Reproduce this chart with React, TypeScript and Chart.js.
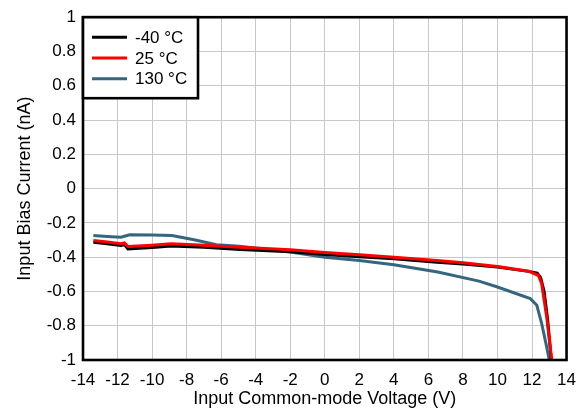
import React, { useEffect, useRef } from "react";
import { Chart, registerables } from "chart.js";

Chart.register(...registerables);

const seriesLabels = ["-40 °C", "25 °C", "130 °C"];
const seriesColors = ["#000000", "#ff0000", "#35667f"];

const xM40 = [-13.4, -12.6, -11.8, -11.6, -11.4, -10, -8.9, -7, -4.9, -2, 0, 2, 4, 6.5, 8, 10, 11.8, 12.3, 12.5, 12.7, 12.9, 13.12];
const yM40 = [-0.313, -0.322, -0.332, -0.327, -0.352, -0.343, -0.335, -0.342, -0.356, -0.368, -0.385, -0.398, -0.41, -0.429, -0.44, -0.458, -0.483, -0.493, -0.52, -0.6, -0.76, -1.0];

const x25 = [-13.4, -12.6, -11.8, -11.6, -11.4, -10, -8.9, -7, -4.9, -2, 0, 2, 4, 6.5, 8, 10, 11.8, 12.37, 12.56, 12.85, 13.14];
const y25 = [-0.303, -0.312, -0.322, -0.317, -0.338, -0.33, -0.322, -0.331, -0.342, -0.357, -0.373, -0.386, -0.4, -0.419, -0.432, -0.454, -0.482, -0.507, -0.555, -0.749, -1.0];

const x130 = [-13.4, -12.6, -11.8, -11.3, -10, -8.85, -7.5, -6.27, -4.94, -2, 0, 2, 4, 6.54, 8.93, 10, 11.9, 12.28, 12.56, 12.8, 13.0];
const y130 = [-0.273, -0.279, -0.284, -0.269, -0.271, -0.274, -0.3, -0.327, -0.336, -0.37, -0.4, -0.419, -0.444, -0.487, -0.54, -0.574, -0.642, -0.681, -0.787, -0.9, -1.0];

const xTitle = "Input Common-mode Voltage (V)";
const yTitle = "Input Bias Current (nA)";
const xMin = -14, xMax = 14, xStep = 2;
const yMin = -1, yMax = 1, yStep = 0.2;

const FONT = "'Liberation Sans', Arial, sans-serif";

function toPoints(xs: number[], ys: number[]) {
  return xs.map((x, i) => ({ x, y: ys[i] }));
}

const framePlugin = {
  id: "frameAndLegend",
  afterDraw(chart: any) {
    const { ctx, chartArea: ca } = chart;
    ctx.save();
    // frame
    ctx.strokeStyle = "#000";
    ctx.lineWidth = 2.6;
    ctx.strokeRect(ca.left, ca.top, ca.right - ca.left, ca.bottom - ca.top);
    // legend box
    const w = 115, h = 81;
    ctx.fillStyle = "#fff";
    ctx.fillRect(ca.left, ca.top, w, h);
    ctx.strokeRect(ca.left, ca.top, w, h);
    ctx.font = "17px " + FONT;
    ctx.textBaseline = "middle";
    ctx.textAlign = "left";
    chart.data.datasets.forEach((ds: any, i: number) => {
      const y = ca.top + 20 + i * 20.8;
      ctx.strokeStyle = ds.borderColor;
      ctx.lineWidth = 3;
      ctx.beginPath();
      ctx.moveTo(ca.left + 9, y);
      ctx.lineTo(ca.left + 44, y);
      ctx.stroke();
      ctx.fillStyle = "#000";
      ctx.fillText(ds.label, ca.left + 52, y + 1);
    });
    ctx.restore();
  },
};

export default function App() {
  const ref = useRef<HTMLCanvasElement | null>(null);
  useEffect(() => {
    if (!ref.current) return;
    const data = [
      toPoints(xM40, yM40),
      toPoints(x25, y25),
      toPoints(x130, y130),
    ];
    const orders = [1, 0, 2];
    const chart = new Chart(ref.current, {
      type: "line",
      data: {
        datasets: data.map((d, i) => ({
          label: seriesLabels[i],
          data: d,
          borderColor: seriesColors[i],
          backgroundColor: seriesColors[i],
          borderWidth: 3,
          pointRadius: 0,
          tension: 0,
          fill: false,
          order: orders[i],
        })),
      },
      options: {
        responsive: false,
        animation: false,
        layout: { padding: { top: 15, right: 16, left: 0, bottom: 0 } },
        plugins: { legend: { display: false }, tooltip: { enabled: false } },
        scales: {
          x: {
            type: "linear",
            min: xMin,
            max: xMax,
            afterFit: (s: any) => { s.height = 53; },
            afterBuildTicks: (s: any) => {
              const t = [];
              for (let v = xMin; v <= xMax + 1e-9; v += xStep) t.push({ value: v });
              s.ticks = t;
            },
            ticks: {
              color: "#000",
              font: { size: 17, family: FONT },
              padding: 10,
              maxRotation: 0,
              autoSkip: false,
              callback: (v: any) => String(Math.round(Number(v))),
            },
            grid: { color: "#c8c8c8", lineWidth: 1, drawTicks: false },
            border: { display: false },
            title: {
              display: true,
              text: xTitle,
              color: "#000",
              font: { size: 18, family: FONT },
              padding: { top: 0, bottom: 3 },
            },
          },
          y: {
            type: "linear",
            min: yMin,
            max: yMax,
            afterFit: (s: any) => { s.width = 83; },
            afterBuildTicks: (s: any) => {
              const t = [];
              for (let i = 0; i <= Math.round((yMax - yMin) / yStep); i++) t.push({ value: yMin + i * yStep });
              s.ticks = t;
            },
            ticks: {
              color: "#000",
              font: { size: 17, family: FONT },
              padding: 7,
              autoSkip: false,
              callback: (v: any) => {
                const n = Math.round(Number(v) * 10) / 10;
                return n === 0 ? "0" : String(n);
              },
            },
            grid: { color: "#c8c8c8", lineWidth: 1, drawTicks: false },
            border: { display: false },
            title: {
              display: true,
              text: yTitle,
              color: "#000",
              font: { size: 18, family: FONT },
              padding: { top: 14, bottom: 0 },
            },
          },
        },
      },
      plugins: [framePlugin],
    });
    return () => chart.destroy();
  }, []);
  return (
    <div style={{ position: "absolute", left: 0, top: 0, width: 586, height: 413, background: "#fff" }}>
      <canvas ref={ref} width={586} height={413} />
    </div>
  );
}
